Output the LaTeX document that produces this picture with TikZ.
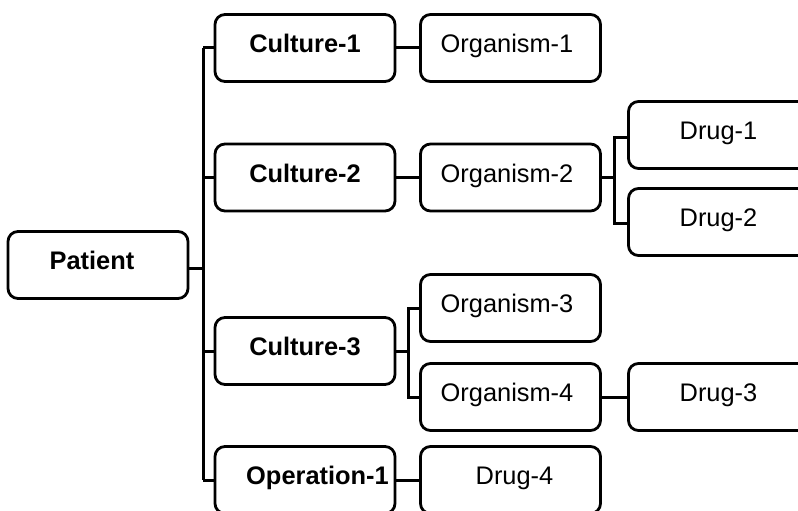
\documentclass[tikz,border=0pt]{standalone}
\usepackage{fontspec}
\setmainfont{Liberation Sans}
\begin{document}
\begin{tikzpicture}[x=1pt,y=-1pt,
  tbox/.style={draw=black, fill=white, rounded corners=10pt, line width=2.8pt,
    minimum width=180pt, minimum height=67pt, inner sep=0pt,
    text height=18pt, text depth=9pt,
    font=\fontsize{25.4}{30}\selectfont},
  hdr/.style={tbox, font=\fontsize{25.4}{30}\selectfont\bfseries},
  conn/.style={draw=black, line width=3pt}]
\clip (0,0) rectangle (798,511);
\fill[white] (0,0) rectangle (798,511);

% branch points of the tree
\coordinate (trunk) at (203,0);
\coordinate (fork3) at (408,0);
\coordinate (fork2) at (614,0);

% root and first level
\node[hdr] (patient) at (98,265) {Patient\hspace*{12pt}};
\node[hdr] (c1) at (305,48) {Culture-1};
\node[hdr] (c2) at (305,177.5) {Culture-2};
\node[hdr] (c3) at (305,351) {Culture-3};
\node[hdr] (op1) at (305,480) {\hspace*{25pt}Operation-1};

% second level
\node[tbox] (o1) at (510.5,48) {Organism-1\hspace*{7pt}};
\node[tbox] (o2) at (510.5,177.5) {Organism-2\hspace*{7pt}};
\node[tbox] (o3) at (510.5,308) {Organism-3\hspace*{7pt}};
\node[tbox] (o4) at (510.5,397) {Organism-4\hspace*{7pt}};
\node[tbox] (d4) at (510.5,480) {\hspace*{8pt}Drug-4};

% third level
\node[tbox] (d1) at (718.5,135) {Drug-1};
\node[tbox] (d2) at (718.5,222) {Drug-2};
\node[tbox] (d3) at (718.5,397) {Drug-3};

% trunk from the patient to its children
\draw[conn] ([yshift=-3pt]patient.east) -- ([yshift=-3pt]patient.east -| trunk);
\draw[conn] (c1.west -| trunk) -- (op1.west -| trunk);
\foreach \n in {c1,c2,c3,op1}
  \draw[conn] (\n.west) -- (\n.west -| trunk);

% single links
\draw[conn] (c1.east) -- (o1.west);
\draw[conn] (c2.east) -- (o2.west);
\draw[conn] (op1.east) -- (d4.west);
\draw[conn] (o4.east) -- (d3.west);

% culture-3 fork
\draw[conn] (c3.east) -- (c3.east -| fork3);
\draw[conn] (o3.west) -- (o3.west -| fork3) -- (o4.west -| fork3) -- (o4.west);

% organism-2 fork
\draw[conn] (o2.east) -- (o2.east -| fork2);
\draw[conn] ([yshift=-2pt]d1.west) -- ([yshift=-2pt]d1.west -| fork2) -- ([yshift=-1pt]d2.west -| fork2) -- ([yshift=-1pt]d2.west);
\end{tikzpicture}
\end{document}
